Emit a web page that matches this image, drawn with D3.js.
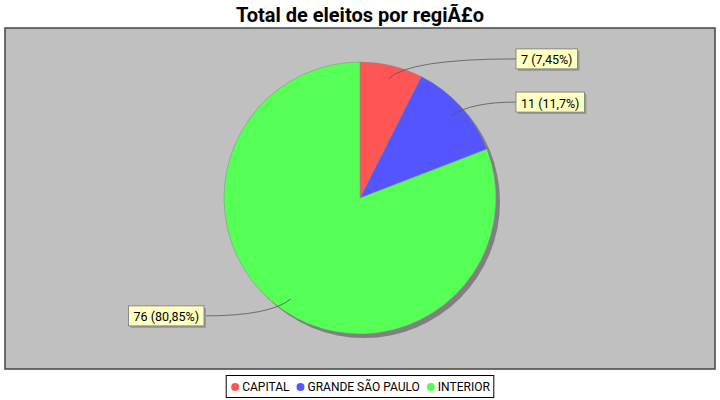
<!DOCTYPE html>
<html>
<head>
<meta charset="utf-8">
<script src="https://cdn.jsdelivr.net/npm/d3@7"></script>
<style>
  body { margin: 0; background: #fff; }
  text { font-family: Roboto, "Liberation Sans", sans-serif; }
</style>
</head>
<body>
<svg width="720" height="400"></svg>
<script>
const categories = ["CAPITAL", "GRANDE SÃO PAULO", "INTERIOR"];
const values = [7, 11, 76];
const sliceColors = ["#FF5555", "#5555FF", "#55FF55"];
const title = "Total de eleitos por regiÃ£o";

const svg = d3.select("svg"),
  width = +svg.attr("width"),
  height = +svg.attr("height");

const plot = { x: 5, y: 28, w: 710, h: 341 };
const cx = 360, cy = 198, r = 136;

svg.append("text")
  .attr("x", width / 2)
  .attr("y", 22)
  .attr("text-anchor", "middle")
  .attr("font-size", 20)
  .attr("font-weight", "bold")
  .attr("fill", "#000")
  .text(title);

svg.append("rect")
  .attr("x", plot.x).attr("y", plot.y)
  .attr("width", plot.w).attr("height", plot.h)
  .attr("fill", "#C0C0C0")
  .attr("stroke", "#444")
  .attr("stroke-width", 1.5);

const total = d3.sum(values);
const pie = d3.pie().sort(null).value(d => d)(values);
const arc = d3.arc().innerRadius(0).outerRadius(r);
const color = d3.scaleOrdinal().domain(categories).range(sliceColors);

function pctText(v) {
  return (+(v / total * 100).toFixed(2)).toString().replace(".", ",") + "%";
}

// shadow
svg.append("circle")
  .attr("cx", cx + 4).attr("cy", cy + 4).attr("r", r)
  .attr("fill", "#808080");

const g = svg.append("g").attr("transform", "translate(" + cx + "," + cy + ")");

g.selectAll("path.slice")
  .data(pie)
  .enter()
  .append("path")
  .attr("class", "slice")
  .attr("d", arc)
  .attr("fill", (d, i) => color(categories[i]))
  .attr("stroke", "#888")
  .attr("stroke-width", 0.5);

// labels
const labelG = g.append("g");
pie.forEach(function (d, i) {
  const a = (d.startAngle + d.endAngle) / 2;
  const right = Math.sin(a) >= 0;
  const ax = 0.9 * r * Math.sin(a), ay = -0.9 * r * Math.cos(a);
  const ly = -143 * Math.cos(a);
  const tx = right ? 156 : -156;
  const qx = ax + (right ? 20 : -20);

  const txt = values[i] + " (" + pctText(values[i]) + ")";
  const t = labelG.append("text")
    .attr("font-size", 12.5)
    .attr("fill", "#000")
    .attr("dominant-baseline", "central")
    .text(txt);
  const tw = t.node().getComputedTextLength();
  const bw = tw + 10, bh = 20;
  const bx = right ? tx : tx - bw;
  const by = ly - bh / 2;

  labelG.append("path")
    .attr("d", "M" + ax + "," + ay + " Q" + qx + "," + ly + " " + tx + "," + ly)
    .attr("fill", "none")
    .attr("stroke", "#555")
    .attr("stroke-width", 0.8);

  labelG.append("rect")
    .attr("x", bx + 2).attr("y", by + 2)
    .attr("width", bw).attr("height", bh)
    .attr("fill", "#999");
  labelG.append("rect")
    .attr("x", bx).attr("y", by)
    .attr("width", bw).attr("height", bh)
    .attr("fill", "#FFFFC0")
    .attr("stroke", "#777")
    .attr("stroke-width", 0.8);
  t.attr("x", bx + 5).attr("y", ly + 1).raise();
});

// legend
const legendBox = svg.append("rect");
const legend = svg.append("g");
const items = legend.selectAll("g")
  .data(categories)
  .enter()
  .append("g");
let lx = 0;
items.each(function (d) {
  const it = d3.select(this);
  it.append("circle").attr("cx", 5).attr("cy", 0).attr("r", 4).attr("fill", color(d));
  const t = it.append("text").attr("x", 12).attr("y", 0)
    .attr("dominant-baseline", "central")
    .attr("font-size", 12).attr("fill", "#000").text(d);
  it.attr("transform", "translate(" + lx + ",0)");
  lx += 12 + t.node().getComputedTextLength() + 6;
});
const legW = lx - 6 + 8;
const legX = width / 2 - legW / 2;
legend.attr("transform", "translate(" + (legX + 4) + ",387)");
legendBox
  .attr("x", legX).attr("y", 375.5)
  .attr("width", legW).attr("height", 22)
  .attr("fill", "#fff")
  .attr("stroke", "#000")
  .attr("stroke-width", 1);
</script>
</body>
</html>
